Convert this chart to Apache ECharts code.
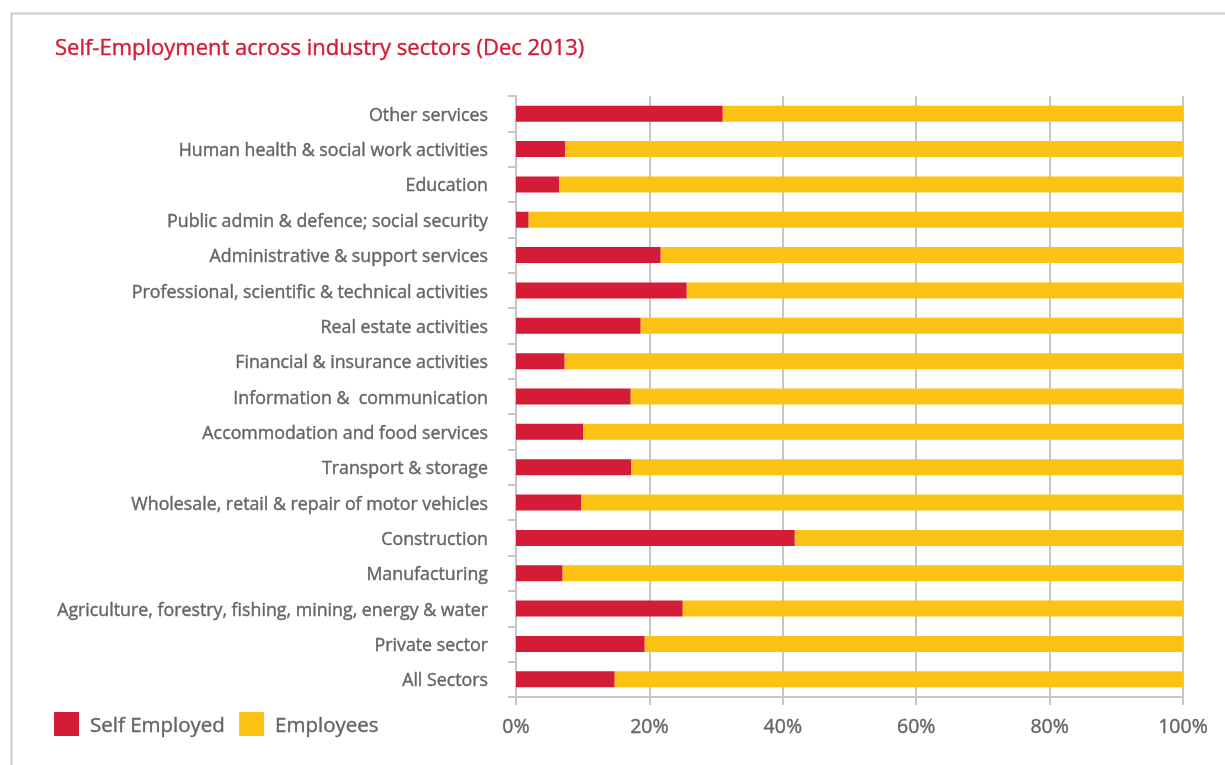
<!DOCTYPE html>
<html>
<head>
<meta charset="utf-8">
<script src="https://cdn.jsdelivr.net/npm/echarts@6/dist/echarts.min.js"></script>
<style>
html,body{margin:0;padding:0;background:#fff;}
#chart{width:1225px;height:765px;}
</style>
</head>
<body>
<div id="chart"></div>
<script>
const categories = [
  "Other services",
  "Human health & social work activities",
  "Education",
  "Public admin & defence; social security",
  "Administrative & support services",
  "Professional, scientific & technical activities",
  "Real estate activities",
  "Financial & insurance activities",
  "Information &  communication",
  "Accommodation and food services",
  "Transport & storage",
  "Wholesale, retail & repair of motor vehicles",
  "Construction",
  "Manufacturing",
  "Agriculture, forestry, fishing, mining, energy & water",
  "Private sector",
  "All Sectors"
];
const selfEmployed = [31.0, 7.4, 6.5, 1.9, 21.7, 25.6, 18.7, 7.3, 17.2, 10.1, 17.3, 9.8, 41.8, 7.0, 25.0, 19.3, 14.8];
const employees = [69.0, 92.6, 93.5, 98.1, 78.3, 74.4, 81.3, 92.7, 82.8, 89.9, 82.7, 90.2, 58.2, 93.0, 75.0, 80.7, 85.2];
const xTicks = [0, 20, 40, 60, 80, 100];

const RED = '#d51c36', YEL = '#fdc314', GRAY = '#646568', LINE = '#c6c6c8';
const FONT = 'Open Sans';
const BW = 0.4;

const chart = echarts.init(document.getElementById('chart'));
chart.setOption({
  animation: false,
  textStyle: { fontFamily: FONT },
  title: {
    text: 'Self-Employment across industry sectors (Dec 2013)',
    left: 50, top: 33,
    textStyle: { color: RED, fontSize: 22, fontWeight: 'normal', fontFamily: FONT,
      textBorderColor: RED, textBorderWidth: BW }
  },
  graphic: [{
    type: 'rect', left: 9, top: 11,
    shape: { width: 1400, height: 900 },
    style: { fill: 'none', stroke: '#cbcbcb', lineWidth: 2 },
    silent: true, z: -1
  }],
  legend: {
    left: 49, top: 707,
    itemWidth: 25, itemHeight: 24, itemGap: 14,
    icon: 'rect',
    formatter: n => '{t|' + n + '}',
    textStyle: { rich: { t: { color: GRAY, fontSize: 20.5, fontFamily: FONT,
      textBorderColor: GRAY, textBorderWidth: BW, padding: [4, 0, 0, 6] } } },
    data: ['Self Employed', 'Employees']
  },
  grid: { left: 516, right: 42, top: 96, bottom: 68, containLabel: false },
  xAxis: {
    type: 'value', min: 0, max: 100, interval: 20,
    axisLine: { show: true, lineStyle: { color: LINE, width: 2 } },
    axisTick: { show: true, length: 8, lineStyle: { color: LINE, width: 2 } },
    splitLine: { show: true, lineStyle: { color: LINE, width: 2 } },
    axisLabel: { color: GRAY, fontSize: 19.5, fontFamily: FONT, margin: 20,
      textBorderColor: GRAY, textBorderWidth: BW,
      formatter: v => xTicks.includes(v) ? v + '%' : '' }
  },
  yAxis: {
    type: 'category', inverse: true, data: categories,
    axisLine: { show: true, lineStyle: { color: LINE, width: 2 } },
    axisTick: { show: true, length: 8, lineStyle: { color: LINE, width: 2 } },
    axisLabel: { margin: 28, verticalAlign: 'middle',
      formatter: v => '{t|' + v + '}',
      rich: { t: { color: GRAY, fontSize: 17.8, fontFamily: FONT,
        textBorderColor: GRAY, textBorderWidth: BW, padding: [4, 0, 0, 0] } } }
  },
  series: [
    { name: 'Self Employed', type: 'bar', stack: 'total', data: selfEmployed,
      barWidth: 16, itemStyle: { color: RED } },
    { name: 'Employees', type: 'bar', stack: 'total', data: employees,
      barWidth: 16, itemStyle: { color: YEL } }
  ]
});
</script>
</body>
</html>
